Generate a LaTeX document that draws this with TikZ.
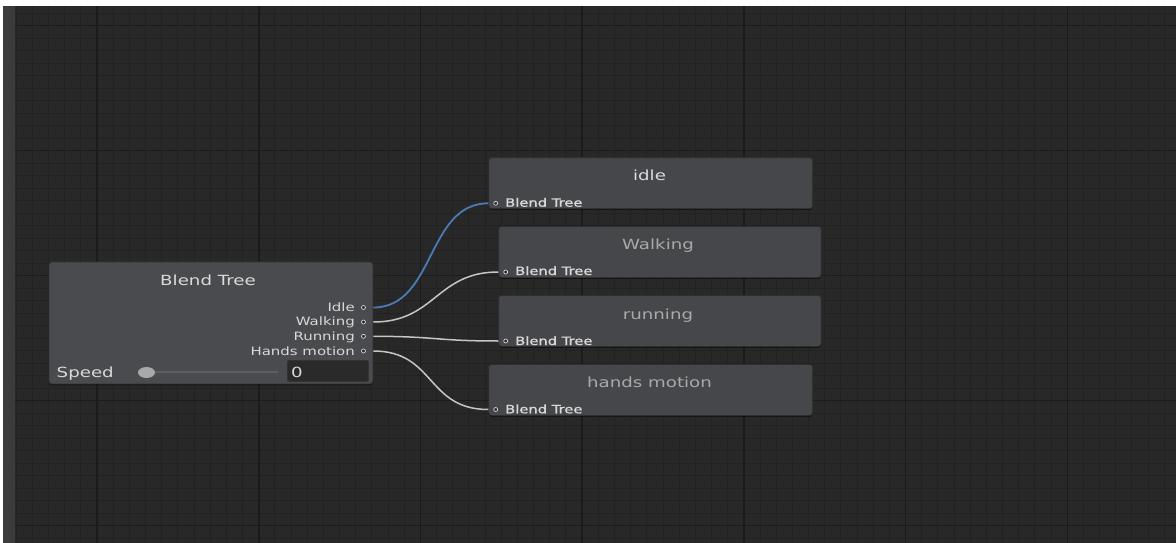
\documentclass[tikz,border=0pt]{standalone}
\usepackage{fontspec}
\usetikzlibrary{shapes.geometric,shadows}
\setmainfont{DejaVu Sans}
\newfontfamily\titlef[FakeStretch=1.3]{DejaVu Sans}
\newfontfamily\lblf[FakeStretch=1.3]{DejaVu Sans}
\newfontfamily\portf[FakeStretch=1.28,FakeBold=1.2]{DejaVu Sans}
\definecolor{bgc}{HTML}{282828}
\definecolor{minorc}{HTML}{222222}
\definecolor{majorc}{HTML}{1B1B1B}
\definecolor{stripc}{HTML}{3B3B3B}
\definecolor{nodec}{HTML}{46474A}
\definecolor{nodeb}{HTML}{4A4B4E}
\definecolor{edgec}{HTML}{2E2F31}
\definecolor{titlew}{HTML}{DADADA}
\definecolor{titleg}{HTML}{A9A9A9}
\definecolor{lblc}{HTML}{D8D8D8}
\definecolor{bluec}{HTML}{4A7BB5}
\definecolor{wirec}{HTML}{C6C6C6}
\definecolor{slidec}{HTML}{5E5E5E}
\definecolor{fieldc}{HTML}{2A2A2A}
\tikzset{
  minorline/.style={minorc, line width=1pt},
  majorline/.style={majorc, line width=1.5pt},
  statebox/.style={rectangle, rounded corners=3pt, fill=nodec, draw=edgec, line width=0.8pt, anchor=north west, inner sep=0pt,
    drop shadow={shadow xshift=0pt, shadow yshift=-1.5pt, opacity=0.45, fill=black}},
  titletext/.style={anchor=base, inner sep=0pt, font=\titlef\fontsize{14}{16}\selectfont},
  srclbl/.style={anchor=base east, inner sep=0pt, text=lblc, font=\lblf\fontsize{11.5}{13}\selectfont},
  portlbl/.style={anchor=base west, inner sep=0pt, text=lblc, font=\portf\fontsize{11.5}{13}\selectfont},
  portdot/.style={circle, inner sep=0pt, minimum size=4pt, fill=edgec, draw=wirec!80, line width=0.7pt},
  wire/.style={wirec, line width=1.5pt},
  bluewire/.style={bluec, line width=1.8pt},
}
\begin{document}
\begin{tikzpicture}[x=1pt,y=-1pt]
\useasboundingbox (0,0) rectangle (1176,543);
% background
\fill[white] (0,0) rectangle (1176,543);
\fill[bgc] (15,6) rectangle (1176,543);
\fill[stripc] (3,6) rectangle (15,543);
% grid
\foreach \i in {0,...,71} {\draw[minorline] ({16.2+16.17*\i},6) -- ({16.2+16.17*\i},543);}
\foreach \j in {1,...,43} {\draw[minorline] (15,{0.7+12.5*\j}) -- (1176,{0.7+12.5*\j});}
\foreach \i in {0,...,6} {\draw[majorline] ({97.05+161.7*\i},6) -- ({97.05+161.7*\i},543);}
\foreach \j in {0,...,4} {\draw[majorline] (15,{25.7+125*\j}) -- (1176,{25.7+125*\j});}
% Blend Tree node
\node[statebox, fill=nodeb, minimum width=324pt, minimum height=122pt] (bt) at (48.5,261.5) {};
\node[titletext, text=titlew] (bttitle) at (208,285) {Blend Tree};
\node[srclbl] (lIdle) at (355,311) {Idle};
\node[srclbl] (lWalk) at (355,325.7) {Walking};
\node[srclbl] (lRun) at (355,340) {Running};
\node[srclbl] (lHands) at (355,355) {Hands motion};
\node[portdot] (pIdle) at (363.5,307.5) {};
\node[portdot] (pWalk) at (363.5,322) {};
\node[portdot] (pRun) at (363.5,336.3) {};
\node[portdot] (pHands) at (363.5,351) {};
\node[anchor=base west, inner sep=0pt, text=lblc, font=\lblf\fontsize{14}{16}\selectfont] (speed) at (56.5,377.7) {Speed};
\coordinate (slA) at (150,372);
\coordinate (slB) at (278,372);
\draw[slidec, line width=1.3pt] (slA) -- (slB);
\node[ellipse, minimum width=17pt, minimum height=11pt, inner sep=0pt, fill=titleg] (knob) at (146.5,372.5) {};
\node[rectangle, rounded corners=2pt, fill=fieldc, draw=black!80, line width=0.8pt, anchor=north west, minimum width=81pt, minimum height=21pt, inner sep=0pt] (field) at (287,360) {};
\node[anchor=base west, inner sep=0pt, text=lblc, font=\lblf\fontsize{14}{16}\selectfont] (zero) at (291,377.7) {0};
% target nodes
\node[statebox, minimum width=324pt, minimum height=51pt] (idle) at (488.3,157.3) {};
\node[titletext, text=titlew] (idlet) at (649.5,180) {idle};
\node[portdot] (qIdle) at (495.7,203.3) {};
\node[portlbl] (bIdle) at (505,206.7) {Blend Tree};

\node[statebox, minimum width=322.5pt, minimum height=51pt] (walk) at (498.3,226) {};
\node[titletext, text=titleg] (walkt) at (658,249.3) {Walking};
\node[portdot] (qWalk) at (505.7,272) {};
\node[portlbl] (bWalk) at (515,275) {Blend Tree};

\node[statebox, minimum width=322.5pt, minimum height=51pt] (run) at (498.3,295) {};
\node[titletext, text=titleg] (runt) at (658,319) {running};
\node[portdot] (qRun) at (505.7,341) {};
\node[portlbl] (bRun) at (515,345) {Blend Tree};

\node[statebox, minimum width=324pt, minimum height=51pt] (hands) at (488.3,364) {};
\node[titletext, text=titleg] (handst) at (649.5,387.3) {hands motion};
\node[portdot] (qHands) at (495.7,409.5) {};
\node[portlbl] (bHands) at (505,413.3) {Blend Tree};
% connectors
\coordinate (oIdle) at (bt.east |- pIdle);
\coordinate (oWalk) at (bt.east |- pWalk);
\coordinate (oRun) at (bt.east |- pRun);
\coordinate (oHands) at (bt.east |- pHands);
\coordinate (iIdle) at (idle.west |- qIdle);
\coordinate (iWalk) at (walk.west |- qWalk);
\coordinate (iRun) at (run.west |- qRun);
\coordinate (iHands) at (hands.west |- qHands);
\draw[bluewire] (oIdle) .. controls +(62,0) and +(-62,0) .. (iIdle);
\draw[wire] (oWalk) .. controls +(62,0) and +(-62,0) .. (iWalk);
\draw[wire] (oRun) .. controls +(62,0) and +(-62,0) .. (iRun);
\draw[wire] (oHands) .. controls +(62,0) and +(-62,0) .. (iHands);
\end{tikzpicture}
\end{document}
